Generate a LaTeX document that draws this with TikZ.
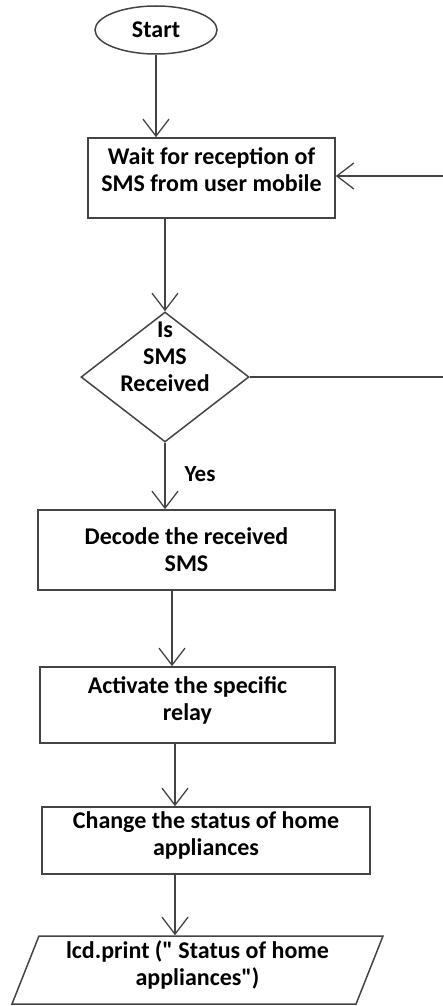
\documentclass[tikz,border=0pt]{standalone}
\usepackage{fontspec}
\setmainfont{Carlito}
\usetikzlibrary{shapes.geometric,arrows.meta}
\definecolor{ln}{HTML}{444444}
\newcommand{\dq}{\XeTeXglyph\XeTeXcharglyph"22\relax}
\tikzset{
  every node/.style={font=\bfseries\fontsize{24}{27}\selectfont, text=black, align=center},
  box/.style={draw=ln, line width=1.6pt, rectangle, inner sep=0pt},
  flow/.style={draw=ln, line width=1.5pt, -{Straight Barb[length=17pt,width=26pt,line width=1.3pt]}}
}
\begin{document}
\begin{tikzpicture}[x=1pt,y=-1pt]
\useasboundingbox (0,0) rectangle (442,1006);
\node[draw=ln, line width=1.5pt, ellipse, minimum width=122pt, minimum height=48pt, inner sep=0pt, font=\bfseries\fontsize{24}{26}\selectfont] (start) at (156,30) {Start};
\node[box, minimum width=247pt, minimum height=80pt] (box1) at (211.5,178) {Wait for reception of\\SMS from user mobile\\[-10pt]~};
\node[draw=ln, line width=1.5pt, diamond, minimum width=168pt, minimum height=130pt, inner sep=0pt,
      label={[yshift=20pt, align=center]center:{Is\\SMS\\Received}}] (dec) at (165,377) {};
\node[box, minimum width=297pt, minimum height=80pt] (box2) at (186.5,550) {Decode the received\\SMS};
\node[box, minimum width=295pt, minimum height=76pt] (box3) at (187.5,705) {Activate the specific\\relay\\[-14pt]~};
\node[box, minimum width=328pt, minimum height=67pt] (box4) at (206,840.5) {Change the status of home\\appliances\\[-14pt]~};
\node[draw=ln, line width=1.5pt, trapezium, trapezium left angle=65, trapezium right angle=115, trapezium stretches body, minimum width=371pt, minimum height=68pt, inner sep=0pt] (out) at (197.5,970) {lcd.print (\dq{} Status of home\\appliances\dq)\\[-14pt]~};
\node[font=\bfseries\fontsize{23}{26}\selectfont] (yes) at (200,474) {Yes};
\coordinate (loopR) at (447,0);
\draw[flow] (start.south) -- (start.south |- box1.north);
\draw[flow] (dec.north |- box1.south) -- (dec.north);
\draw[flow] (dec.south) -- (dec.south |- box2.north);
\draw[flow] ([xshift=-14.5pt]box2.south) -- ([xshift=-14.5pt]box2.south |- box3.north);
\draw[flow] ([xshift=-31pt]box4.north |- box3.south) -- ([xshift=-31pt]box4.north);
\draw[flow] ([xshift=-31pt]box4.south) -- ([xshift=-31pt]box4.south |- out.north);
\draw[flow] (dec.east) -- (dec.east -| loopR) |- ([yshift=2pt]box1.east);
\end{tikzpicture}
\end{document}
